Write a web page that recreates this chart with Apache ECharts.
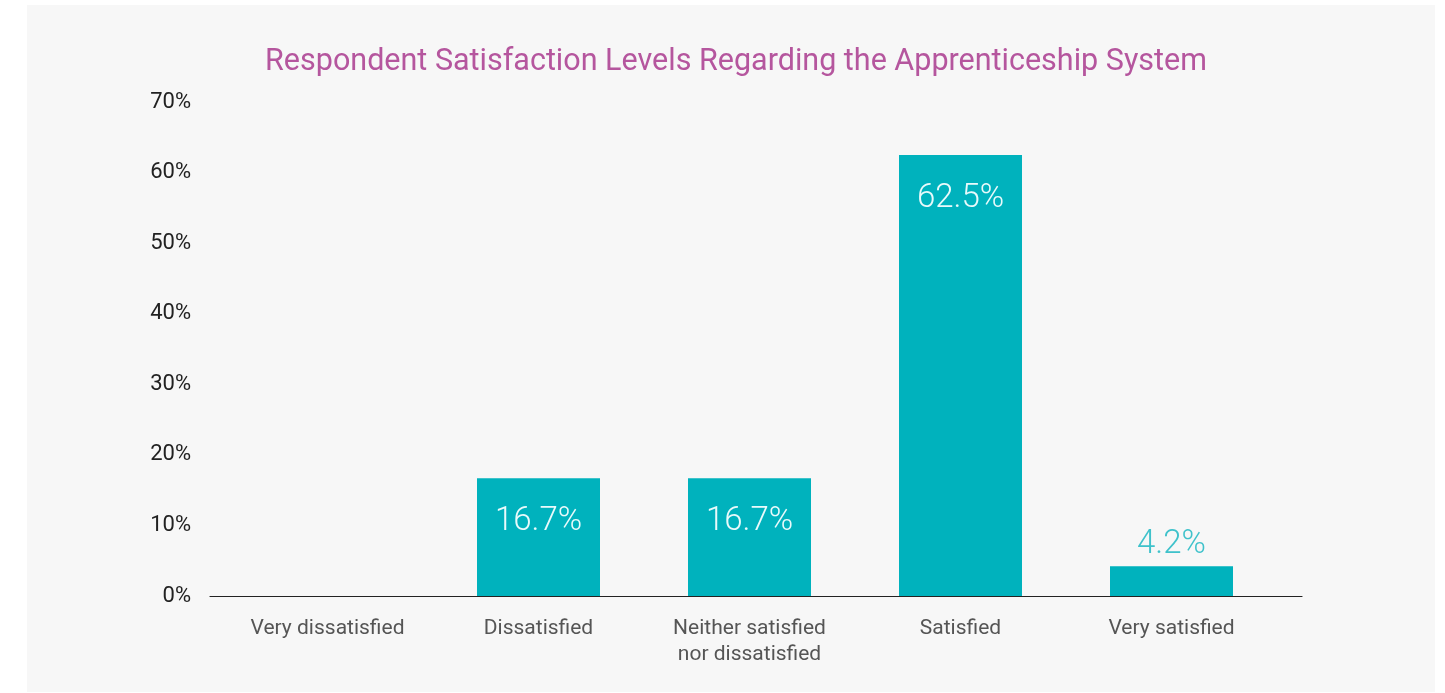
<!DOCTYPE html>
<html>
<head>
<meta charset="utf-8">
<script src="https://cdn.jsdelivr.net/npm/echarts@6/dist/echarts.min.js"></script>
<style>
  html, body { margin: 0; padding: 0; background: #ffffff; }
  #chart { width: 1445px; height: 693px; }
</style>
</head>
<body>
<div id="chart"></div>
<script>
// Survey categories and the share of respondents in each (percent)
const categories = [
  'Very dissatisfied',
  'Dissatisfied',
  'Neither satisfied\nnor dissatisfied',
  'Satisfied',
  'Very satisfied'
];
const shares = [0, 16.7, 16.7, 62.5, 4.2];
const yTicks = [0, 10, 20, 30, 40, 50, 60, 70];

const teal = '#00b2bd';
const fontFamily = 'Roboto, "Open Sans", sans-serif';

// Small bars get their label above the bar in teal; tall bars get it inside in white
const barData = shares.map(v => {
  const small = v < 10;
  return {
    value: v,
    label: {
      show: v > 0,
      position: small ? 'top' : 'insideTop',
      distance: small ? 5 : 27,
      color: small ? '#3fc2cb' : '#e9fafb'
    }
  };
});

const chart = echarts.init(document.getElementById('chart'));
chart.setOption({
  backgroundColor: '#ffffff',
  animation: false,
  graphic: [{
    type: 'rect',
    z: -10,
    silent: true,
    shape: { x: 27, y: 5, width: 1408, height: 687 },
    style: { fill: '#f7f7f7' }
  }],
  title: {
    text: 'Respondent Satisfaction Levels Regarding the Apprenticeship System',
    left: 731,
    textAlign: 'center',
    top: 42,
    textStyle: {
      color: '#b5569e',
      fontSize: 30.5,
      fontWeight: 'normal',
      fontFamily: fontFamily
    }
  },
  grid: [
    // plotting area for the bars
    { left: 222, right: 168, top: 102, bottom: 97, containLabel: false },
    // wider baseline drawn under the bars
    { left: 210, right: 143, top: 102, bottom: 97, containLabel: false }
  ],
  xAxis: [{
    type: 'category',
    gridIndex: 0,
    data: categories,
    axisLine: { show: false },
    axisTick: { show: false },
    axisLabel: {
      color: '#555555',
      fontSize: 21,
      fontFamily: fontFamily,
      margin: 20,
      lineHeight: 26
    }
  }, {
    type: 'value',
    gridIndex: 1,
    min: 0,
    max: 1,
    axisLine: { show: true, lineStyle: { color: '#222222', width: 1.2 } },
    axisTick: { show: false },
    axisLabel: { show: false },
    splitLine: { show: false }
  }],
  yAxis: [{
    type: 'value',
    gridIndex: 0,
    min: yTicks[0],
    max: yTicks[yTicks.length - 1],
    interval: 10,
    splitLine: { show: false },
    axisLine: { show: false },
    axisTick: { show: false },
    axisLabel: {
      color: '#222222',
      fontSize: 22,
      fontFamily: fontFamily,
      margin: 31,
      formatter: v => v + '%'
    }
  }, {
    type: 'value',
    gridIndex: 1,
    show: false,
    min: 0,
    max: 1
  }],
  series: [{
    type: 'bar',
    xAxisIndex: 0,
    yAxisIndex: 0,
    data: barData,
    barWidth: 123,
    itemStyle: { color: teal },
    label: {
      fontSize: 33,
      fontWeight: 300,
      fontFamily: fontFamily,
      formatter: p => p.value.toFixed(1) + '%'
    }
  }]
});
</script>
</body>
</html>
